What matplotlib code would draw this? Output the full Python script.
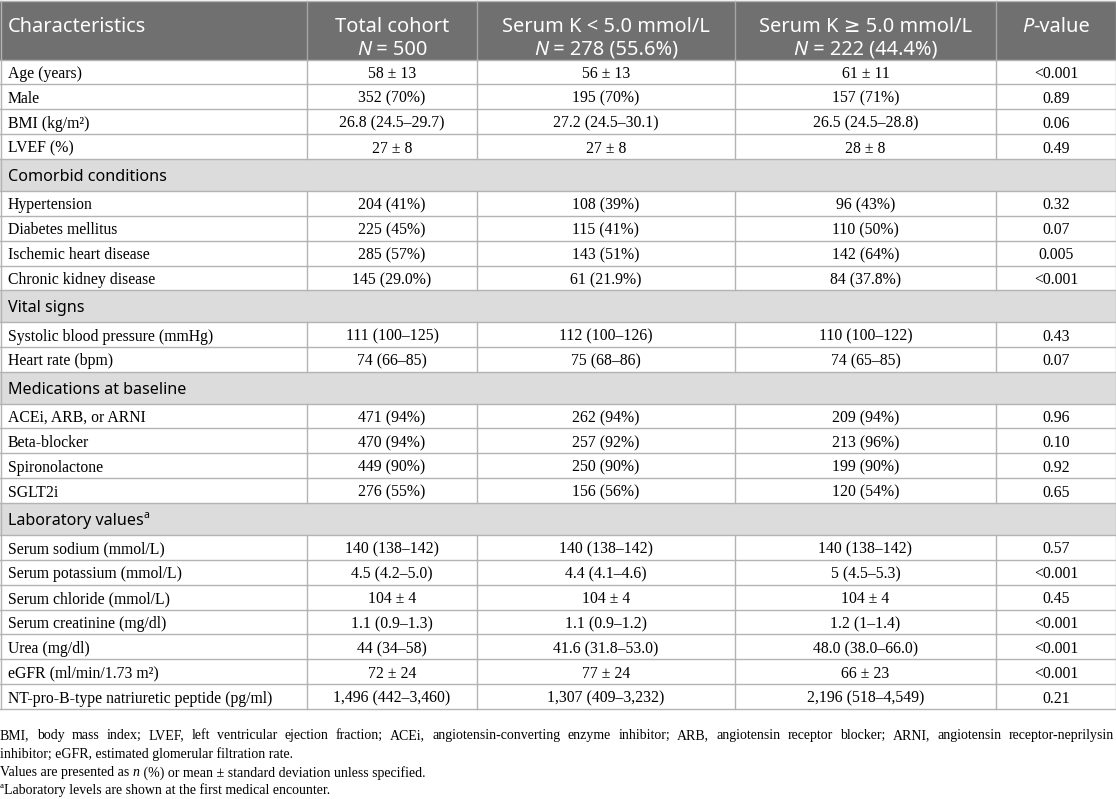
import matplotlib
matplotlib.use("Agg")
import matplotlib.pyplot as plt
from matplotlib.patches import Rectangle

# ---- table content ----
col_titles = ["Total cohort", "Serum K < 5.0 mmol/L", "Serum K \u2265 5.0 mmol/L"]
col_counts = ["500", "278 (55.6%)", "222 (44.4%)"]

groups = ["", "Comorbid conditions", "Vital signs", "Medications at baseline",
          "Laboratory values"]

labels = [
    ["Age (years)", "Male", "BMI (kg/m\u00b2)", "LVEF (%)"],
    ["Hypertension", "Diabetes mellitus", "Ischemic heart disease", "Chronic kidney disease"],
    ["Systolic blood pressure (mmHg)", "Heart rate (bpm)"],
    ["ACEi, ARB, or ARNI", "Beta-blocker", "Spironolactone", "SGLT2i"],
    ["Serum sodium (mmol/L)", "Serum potassium (mmol/L)", "Serum chloride (mmol/L)",
     "Serum creatinine (mg/dl)", "Urea (mg/dl)", "eGFR (ml/min/1.73 m\u00b2)",
     "NT-pro-B-type natriuretic peptide (pg/ml)"],
]
total = [
    ["58 \u00b1 13", "352 (70%)", "26.8 (24.5\u201329.7)", "27 \u00b1 8"],
    ["204 (41%)", "225 (45%)", "285 (57%)", "145 (29.0%)"],
    ["111 (100\u2013125)", "74 (66\u201385)"],
    ["471 (94%)", "470 (94%)", "449 (90%)", "276 (55%)"],
    ["140 (138\u2013142)", "4.5 (4.2\u20135.0)", "104 \u00b1 4", "1.1 (0.9\u20131.3)",
     "44 (34\u201358)", "72 \u00b1 24", "1,496 (442\u20133,460)"],
]
k_low = [
    ["56 \u00b1 13", "195 (70%)", "27.2 (24.5\u201330.1)", "27 \u00b1 8"],
    ["108 (39%)", "115 (41%)", "143 (51%)", "61 (21.9%)"],
    ["112 (100\u2013126)", "75 (68\u201386)"],
    ["262 (94%)", "257 (92%)", "250 (90%)", "156 (56%)"],
    ["140 (138\u2013142)", "4.4 (4.1\u20134.6)", "104 \u00b1 4", "1.1 (0.9\u20131.2)",
     "41.6 (31.8\u201353.0)", "77 \u00b1 24", "1,307 (409\u20133,232)"],
]
k_high = [
    ["61 \u00b1 11", "157 (71%)", "26.5 (24.5\u201328.8)", "28 \u00b1 8"],
    ["96 (43%)", "110 (50%)", "142 (64%)", "84 (37.8%)"],
    ["110 (100\u2013122)", "74 (65\u201385)"],
    ["209 (94%)", "213 (96%)", "199 (90%)", "120 (54%)"],
    ["140 (138\u2013142)", "5 (4.5\u20135.3)", "104 \u00b1 4", "1.2 (1\u20131.4)",
     "48.0 (38.0\u201366.0)", "66 \u00b1 23", "2,196 (518\u20134,549)"],
]
pvals = [
    ["<0.001", "0.89", "0.06", "0.49"],
    ["0.32", "0.07", "0.005", "<0.001"],
    ["0.43", "0.07"],
    ["0.96", "0.10", "0.92", "0.65"],
    ["0.57", "<0.001", "0.45", "<0.001", "<0.001", "<0.001", "0.21"],
]

foot1 = ("BMI, body mass index; LVEF, left ventricular ejection fraction; ACEi, "
         "angiotensin-converting enzyme inhibitor; ARB, angiotensin receptor blocker; "
         "ARNI, angiotensin receptor-neprilysin")
foot1b = "inhibitor; eGFR, estimated glomerular filtration rate."

# ---- layout ----
W, H = 1116, 799
col_x = [0, 307, 477, 735, 996, 1116]
head_top, head_bot = 1.0, 59.5
row_h, sec_h = 24.9, 31.7

SANS = ["Noto Sans", "DejaVu Sans"]
SERIF = ["Liberation Serif", "DejaVu Serif"]
grid_c = "#b3b3b3"
head_bg = "#707070"
sec_bg = "#dcdcdc"
fs_head, fs_sec, fs_body, fs_foot = 14.4, 11.6, 11.3, 10.0

fig = plt.figure(figsize=(W / 100, H / 100), dpi=100)
ax = fig.add_axes([0, 0, 1, 1])
ax.set_xlim(0, W)
ax.set_ylim(H, 0)
ax.axis("off")
renderer = fig.canvas.get_renderer()


def runs(x, y, parts, ha="left", family=SERIF, size=fs_body, color="black"):
    # parts: list of (text, style, rel_size, dy)
    items = []
    for s, style, rel, dy in parts:
        t = ax.text(0, y + dy, s, family=family, fontsize=size * rel, style=style,
                    color=color, va="center_baseline", ha="left")
        w = t.get_window_extent(renderer=renderer).width
        items.append((t, w))
    tot = sum(w for _, w in items)
    cur = x - tot / 2 if ha == "center" else x
    for t, w in items:
        t.set_x(cur)
        cur += w


# header
ax.add_patch(Rectangle((0, head_top), W, head_bot - head_top, color=head_bg, lw=0))
for xv in col_x[1:-1]:
    ax.plot([xv, xv], [head_top, head_bot], color="#a5a5a5", lw=1.0)
y1, y2 = 24.0, 47.5
ax.text(8, y1, "Characteristics", family=SANS, fontsize=fs_head, color="white",
        va="center_baseline", ha="left")
for i in range(3):
    xc = (col_x[i + 1] + col_x[i + 2]) / 2
    ax.text(xc, y1, col_titles[i], family=SANS, fontsize=fs_head, color="white",
            va="center_baseline", ha="center")
    runs(xc, y2, [("N", "italic", 1, 0), (" = " + col_counts[i], "normal", 1, 0)],
         ha="center", family=SANS, size=fs_head, color="white")
runs((col_x[4] + col_x[5]) / 2, y1, [("P", "italic", 1, 0), ("-value", "normal", 1, 0)],
     ha="center", family=SANS, size=fs_head, color="white")

# body
y = head_bot
for g in range(len(groups)):
    if groups[g]:
        ax.add_patch(Rectangle((0, y), W, sec_h, color=sec_bg, lw=0))
        yc = y + sec_h / 2
        parts = [(groups[g], "normal", 1, 0)]
        if groups[g].startswith("Laboratory"):
            parts.append(("a", "normal", 0.65, -5))
        runs(8, yc, parts, family=SANS, size=fs_sec)
        ax.plot([0, W], [y, y], color=grid_c, lw=1.0)
        y += sec_h
    for r in range(len(labels[g])):
        yc = y + row_h / 2
        ax.plot([0, W], [y, y], color=grid_c, lw=1.0)
        for xv in col_x[1:-1]:
            ax.plot([xv, xv], [y, y + row_h], color=grid_c, lw=1.0)
        ax.text(8, yc, labels[g][r], family=SERIF, fontsize=fs_body,
                va="center_baseline", ha="left")
        vals = [total[g][r], k_low[g][r], k_high[g][r], pvals[g][r]]
        for c, v in enumerate(vals):
            xc = (col_x[c + 1] + col_x[c + 2]) / 2
            ax.text(xc, yc, v, family=SERIF, fontsize=fs_body,
                    va="center_baseline", ha="center")
        y += row_h
ax.plot([0, W], [y, y], color=grid_c, lw=1.0)
# outer border
ax.plot([0.5, 0.5], [head_top, y], color=grid_c, lw=1.0)
ax.plot([W - 0.5, W - 0.5], [head_top, y], color=grid_c, lw=1.0)
ax.plot([0, W], [head_top, head_top], color=grid_c, lw=1.0)

# footnotes
fy = [734, 752.5, 771, 789]
words = foot1.split()
wt = []
for wd in words:
    t = ax.text(0, fy[0], wd, family=SERIF, fontsize=fs_foot, va="center_baseline")
    wt.append((t, t.get_window_extent(renderer=renderer).width))
gap = (W - 2 - sum(w for _, w in wt)) / (len(wt) - 1)
cur = 0
for t, w in wt:
    t.set_x(cur)
    cur += w + gap
ax.text(0, fy[1], foot1b, family=SERIF, fontsize=fs_foot, va="center_baseline")
runs(0, fy[2], [("Values are presented as ", "normal", 1, 0), ("n", "italic", 1, 0),
                (" (%) or mean \u00b1 standard deviation unless specified.", "normal", 1, 0)],
     size=fs_foot)
runs(0, fy[3], [("a", "normal", 0.65, -4),
                ("Laboratory levels are shown at the first medical encounter.", "normal", 1, 0)],
     size=fs_foot)

fig.savefig("out.png", dpi=100)
